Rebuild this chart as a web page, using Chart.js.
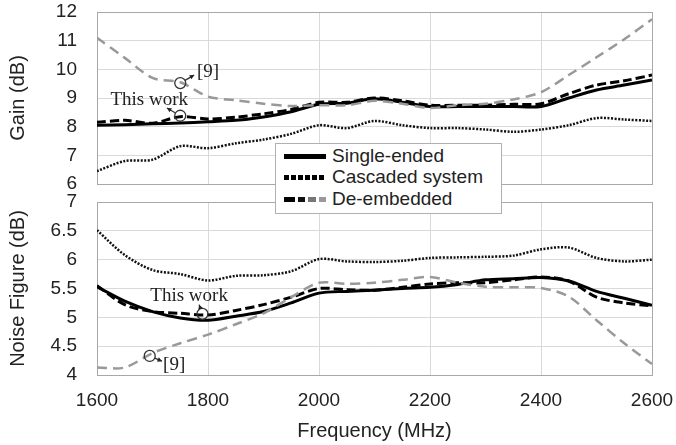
<!DOCTYPE html>
<html>
<head>
<meta charset="utf-8">
<script src="https://cdn.jsdelivr.net/npm/chart.js@4.4.0/dist/chart.umd.min.js"></script>
<style>
html, body { margin: 0; padding: 0; background: #fff; }
#wrap { position: relative; width: 676px; height: 445px; overflow: hidden; }
#graficaGain { position: absolute; left: 0; top: 0; }
#graficaNf { position: absolute; left: 0; top: 190px; }
#leyenda {
  position: absolute; left: 275px; top: 143px; width: 227px; height: 71px;
  box-sizing: border-box; border: 1px solid #b0b0b0; background: #fff;
  font-family: "Liberation Sans", Arial, sans-serif; font-size: 19px; color: #222;
}
.fila { position: absolute; left: 0; height: 22px; line-height: 22px; }
.muestra { position: absolute; left: 8px; top: 9px; width: 42px; height: 5px; }
.texto { position: absolute; left: 56px; top: 0; white-space: nowrap; }
</style>
</head>
<body>
<div id="wrap">
  <canvas id="graficaGain" width="676" height="196"></canvas>
  <canvas id="graficaNf" width="676" height="255"></canvas>
  <div id="leyenda">
    <div class="fila" style="top:1px"><span class="muestra" style="background:#000"></span><span class="texto">Single-ended</span></div>
    <div class="fila" style="top:22px"><span class="muestra" style="background:repeating-linear-gradient(to right,#000 0 5px,transparent 5px 7px)"></span><span class="texto">Cascaded system</span></div>
    <div class="fila" style="top:44px"><span class="muestra" style="background:linear-gradient(to right,#000 0 11px,transparent 11px 14px,#111 14px 21px,transparent 21px 24px,#777 24px 32px,transparent 32px 35px,#999 35px 42px)"></span><span class="texto">De-embedded</span></div>
  </div>
</div>
<script>
// Frecuencias (MHz)
const freq = [1600, 1650, 1700, 1750, 1800, 1850, 1900, 1950, 2000, 2050, 2100,
  2150, 2200, 2250, 2300, 2350, 2400, 2450, 2500, 2550, 2600];
const freqTicks = [1600, 1800, 2000, 2200, 2400, 2600];
const gainTicks = [6, 7, 8, 9, 10, 11, 12];
const nfTicks = [4, 4.5, 5, 5.5, 6, 6.5, 7];

// Ganancia (dB)
const gainSingle = [8.05, 8.07, 8.1, 8.13, 8.17, 8.22, 8.34, 8.52, 8.78, 8.82, 8.97,
  8.85, 8.7, 8.7, 8.7, 8.7, 8.7, 9.0, 9.28, 9.45, 9.63];
const gainCascaded = [6.45, 6.8, 6.85, 7.32, 7.25, 7.42, 7.55, 7.75, 8.05, 7.95, 8.2,
  8.05, 7.95, 7.95, 7.9, 7.82, 7.9, 8.05, 8.3, 8.25, 8.2];
const gainDeemb = [8.15, 8.22, 8.12, 8.35, 8.27, 8.33, 8.45, 8.6, 8.85, 8.85, 9.0,
  8.9, 8.75, 8.75, 8.75, 8.78, 8.8, 9.15, 9.45, 9.6, 9.8];
const gainRef9 = [11.1, 10.4, 9.7, 9.55, 9.05, 8.92, 8.8, 8.72, 8.75, 8.75, 8.9,
  8.8, 8.65, 8.75, 8.8, 8.95, 9.2, 9.8, 10.42, 11.05, 11.75];

// Figura de ruido (dB)
const nfSingle = [5.53, 5.28, 5.1, 4.99, 4.95, 5.02, 5.1, 5.25, 5.42, 5.45, 5.47,
  5.5, 5.52, 5.57, 5.65, 5.67, 5.69, 5.63, 5.45, 5.33, 5.21];
const nfCascaded = [6.51, 6.08, 5.82, 5.75, 5.64, 5.72, 5.73, 5.8, 6.01, 5.97, 5.96,
  5.98, 6.03, 6.04, 6.05, 6.07, 6.18, 6.21, 6.03, 5.97, 6.0];
const nfDeemb = [5.55, 5.22, 5.1, 5.07, 5.04, 5.12, 5.22, 5.35, 5.5, 5.48, 5.47,
  5.52, 5.58, 5.6, 5.6, 5.65, 5.7, 5.63, 5.35, 5.25, 5.2];
const nfRef9 = [4.13, 4.13, 4.38, 4.55, 4.7, 4.88, 5.07, 5.35, 5.6, 5.58, 5.6,
  5.65, 5.7, 5.6, 5.53, 5.52, 5.51, 5.36, 4.95, 4.55, 4.19];

// Anotaciones: circulo sobre la curva, punta de flecha y texto (en unidades de datos)
const gainNotes = [
  { text: "This work", cx: 1750, cy: 8.38, ax: 1726, ay: 8.65, tx: 1694, ty: 8.93 },
  { text: "[9]", cx: 1750, cy: 9.52, ax: 1775, ay: 9.8, tx: 1800, ty: 9.9 }
];
const nfNotes = [
  { text: "This work", cx: 1790, cy: 5.06, ax: 1784, ay: 5.22, tx: 1766, ty: 5.37 },
  { text: "[9]", cx: 1695, cy: 4.33, ax: 1717, ay: 4.24, tx: 1739, ty: 4.18 }
];

Chart.defaults.font.family = "'Liberation Sans', Arial, sans-serif";
Chart.defaults.font.size = 19;
Chart.defaults.color = "#222";

function puntos(valores) {
  return freq.map((f, i) => ({ x: f, y: valores[i] }));
}

function series(single, cascaded, deemb, ref9) {
  return [
    { label: "[9]", data: puntos(ref9), borderColor: "#999", borderWidth: 2.5, borderDash: [10, 6] },
    { label: "Cascaded system", data: puntos(cascaded), borderColor: "#111", borderWidth: 2.5, borderDash: [2, 1.5] },
    { label: "Single-ended", data: puntos(single), borderColor: "#000", borderWidth: 3 },
    { label: "De-embedded", data: puntos(deemb), borderColor: "#000", borderWidth: 3, borderDash: [9, 4] }
  ].map(d => Object.assign(d, { pointRadius: 0, tension: 0.3, fill: false }));
}

const marco = {
  id: "marco",
  beforeDatasetsDraw(chart) {
    const a = chart.chartArea;
    const ctx = chart.ctx;
    ctx.save();
    ctx.strokeStyle = "#a8a8a8";
    ctx.lineWidth = 1;
    ctx.strokeRect(a.left + 0.5, a.top + 0.5, a.right - a.left, a.bottom - a.top);
    ctx.restore();
  }
};

const notas = {
  id: "notas",
  afterDatasetsDraw(chart, args, opts) {
    const ctx = chart.ctx;
    const sx = chart.scales.x, sy = chart.scales.y;
    ctx.save();
    opts.items.forEach(n => {
      const cx = sx.getPixelForValue(n.cx), cy = sy.getPixelForValue(n.cy);
      const ax = sx.getPixelForValue(n.ax), ay = sy.getPixelForValue(n.ay);
      const r = 5.5;
      ctx.strokeStyle = "#333";
      ctx.lineWidth = 1.3;
      ctx.beginPath();
      ctx.arc(cx, cy, r, 0, Math.PI * 2);
      ctx.stroke();
      // flecha
      const ang = Math.atan2(ay - cy, ax - cx);
      const sx0 = cx + Math.cos(ang) * r, sy0 = cy + Math.sin(ang) * r;
      ctx.beginPath();
      ctx.moveTo(sx0, sy0);
      ctx.lineTo(ax, ay);
      ctx.stroke();
      ctx.fillStyle = "#222";
      ctx.beginPath();
      ctx.moveTo(ax, ay);
      ctx.lineTo(ax - Math.cos(ang - 0.5) * 5, ay - Math.sin(ang - 0.5) * 5);
      ctx.lineTo(ax - Math.cos(ang + 0.5) * 5, ay - Math.sin(ang + 0.5) * 5);
      ctx.closePath();
      ctx.fill();
      ctx.font = "19px 'Liberation Serif', 'Times New Roman', serif";
      ctx.textAlign = "center";
      ctx.textBaseline = "middle";
      ctx.fillText(n.text, sx.getPixelForValue(n.tx), sy.getPixelForValue(n.ty));
    });
    ctx.restore();
  }
};

function opciones(ticks, titulo, min, max, inferior, notasLista) {
  return {
    responsive: false,
    animation: false,
    layout: { padding: inferior ? { top: 12, right: 24, bottom: 2, left: 6 } : { top: 12, right: 24, bottom: 12, left: 6 } },
    plugins: {
      legend: { display: false },
      tooltip: { enabled: false },
      notas: { items: notasLista }
    },
    scales: {
      x: {
        type: "linear",
        min: 1600,
        max: 2600,
        afterBuildTicks: a => { a.ticks = freqTicks.map(v => ({ value: v })); },
        afterFit: a => { a.height = inferior ? 68 : 0; a.paddingLeft = 0; a.paddingRight = 0; },
        grid: { color: "#d9d9d9", drawTicks: false },
        border: { display: false },
        ticks: { display: inferior, autoSkip: false, maxRotation: 0, padding: 14, font: { size: 19 }, callback: v => String(v) },
        title: { display: inferior, text: "Frequency (MHz)", font: { size: 20 }, padding: 0 }
      },
      y: {
        min: min,
        max: max,
        afterBuildTicks: a => { a.ticks = ticks.map(v => ({ value: v })); },
        afterFit: a => { a.width = 91; a.paddingTop = 0; a.paddingBottom = 0; },
        grid: { color: "#d9d9d9", drawTicks: false },
        border: { display: false },
        ticks: { autoSkip: false, padding: 20, font: { size: 19 }, callback: v => String(v) },
        title: { display: true, text: titulo, font: { size: 20 }, padding: 0 }
      }
    }
  };
}

new Chart(document.getElementById("graficaGain").getContext("2d"), {
  type: "line",
  data: { datasets: series(gainSingle, gainCascaded, gainDeemb, gainRef9) },
  options: opciones(gainTicks, "Gain (dB)", 6, 12, false, gainNotes),
  plugins: [marco, notas]
});

new Chart(document.getElementById("graficaNf").getContext("2d"), {
  type: "line",
  data: { datasets: series(nfSingle, nfCascaded, nfDeemb, nfRef9) },
  options: opciones(nfTicks, "Noise Figure (dB)", 4, 7, true, nfNotes),
  plugins: [marco, notas]
});
</script>
</body>
</html>
